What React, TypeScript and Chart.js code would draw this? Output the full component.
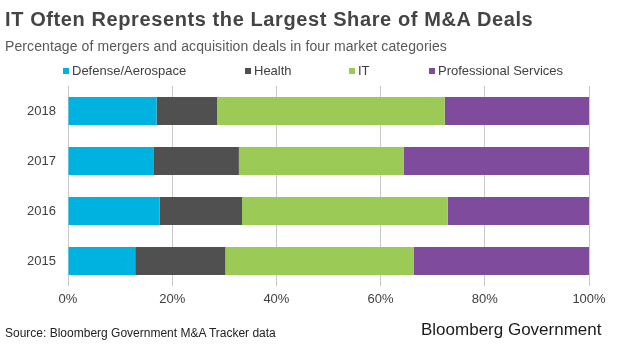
import React, { useEffect, useRef } from "react";
import { Chart, registerables } from "chart.js";

Chart.register(...registerables);

const TITLE = "IT Often Represents the Largest Share of M&A Deals";
const SUBTITLE = "Percentage of mergers and acquisition deals in four market categories";
const SOURCE = "Source: Bloomberg Government M&A Tracker data";
const BRAND = "Bloomberg Government";

const years = ["2018", "2017", "2016", "2015"];
const seriesNames = ["Defense/Aerospace", "Health", "IT", "Professional Services"];
const seriesColors = ["#00B2E0", "#505050", "#9BCB56", "#7F4C9D"];
const defenseValues = [17.0, 16.5, 17.6, 12.9];
const healthValues = [11.6, 16.3, 15.8, 17.3];
const itValues = [43.7, 31.6, 39.5, 36.2];
const proValues = [27.7, 35.6, 27.1, 33.6];
const xTicks = [0, 20, 40, 60, 80, 100];

const FONT = "'Liberation Sans', Arial, sans-serif";

export default function App() {
  const ref = useRef<HTMLCanvasElement | null>(null);

  useEffect(() => {
    if (!ref.current) return;
    const values = [defenseValues, healthValues, itValues, proValues];
    const chart = new Chart(ref.current, {
      type: "bar",
      data: {
        labels: years,
        datasets: seriesNames.map((name, i) => ({
          label: name,
          data: values[i],
          backgroundColor: seriesColors[i],
          borderWidth: 0,
          categoryPercentage: 1,
          barPercentage: 0.56,
        })),
      },
      options: {
        indexAxis: "y",
        responsive: false,
        maintainAspectRatio: false,
        animation: false,
        layout: { padding: { left: 0, right: 31, top: 86, bottom: 37 } },
        plugins: {
          legend: { display: false },
          title: { display: false },
          tooltip: { enabled: false },
        },
        scales: {
          x: {
            stacked: true,
            min: 0,
            max: 100,
            afterBuildTicks: (s: any) => {
              s.ticks = xTicks.map((v) => ({ value: v }));
            },
            afterFit: (s: any) => {
              s.height = 28;
            },
            grid: { color: "#C8C8C8", lineWidth: 1, drawTicks: false },
            border: { display: false },
            ticks: {
              padding: 6,
              color: "#404040",
              font: { family: FONT, size: 13 },
              callback: (v: any) => v + "%",
            },
          },
          y: {
            stacked: true,
            afterFit: (s: any) => {
              s.width = 68;
            },
            grid: { display: false, drawTicks: false },
            border: { display: false },
            ticks: {
              padding: 12,
              color: "#404040",
              font: { family: FONT, size: 13 },
            },
          },
        },
      },
    });
    return () => chart.destroy();
  }, []);

  const legendX = [63, 245, 349, 429];

  return (
    <div
      style={{
        position: "fixed",
        left: 0,
        top: 0,
        width: 620,
        height: 351,
        background: "#fff",
        overflow: "hidden",
        fontFamily: FONT,
      }}
    >
      <canvas ref={ref} width={620} height={351} style={{ position: "absolute", left: 0, top: 0 }} />
      <div
        style={{
          position: "absolute",
          left: 5,
          top: 7,
          fontSize: 20,
          fontWeight: "bold",
          color: "#444444",
          whiteSpace: "nowrap",
          lineHeight: "24px",
          letterSpacing: "0.6px",
        }}
      >
        {TITLE}
      </div>
      <div
        style={{
          position: "absolute",
          left: 5,
          top: 37,
          fontSize: 14,
          color: "#595959",
          whiteSpace: "nowrap",
          lineHeight: "18px",
          letterSpacing: "0.1px",
        }}
      >
        {SUBTITLE}
      </div>
      {seriesNames.map((name, i) => (
        <div
          key={name}
          style={{
            position: "absolute",
            left: legendX[i],
            top: 63,
            fontSize: 13,
            color: "#404040",
            whiteSpace: "nowrap",
            lineHeight: "16px",
            display: "flex",
            alignItems: "center",
          }}
        >
          <span
            style={{
              display: "inline-block",
              width: 6,
              height: 6,
              background: seriesColors[i],
              marginRight: 3,
            }}
          />
          {name}
        </div>
      ))}
      <div
        style={{
          position: "absolute",
          left: 5,
          top: 325,
          fontSize: 12,
          color: "#222222",
          whiteSpace: "nowrap",
          lineHeight: "16px",
        }}
      >
        {SOURCE}
      </div>
      <div
        style={{
          position: "absolute",
          left: 421,
          top: 319,
          fontSize: 17,
          color: "#1a1a1a",
          whiteSpace: "nowrap",
          lineHeight: "22px",
        }}
      >
        {BRAND}
      </div>
    </div>
  );
}
